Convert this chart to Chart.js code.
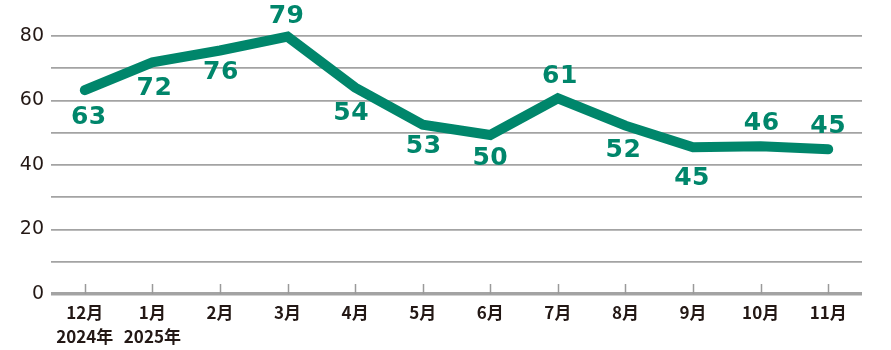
<!DOCTYPE html>
<html lang="ja">
<head>
<meta charset="utf-8">
<script src="https://cdn.jsdelivr.net/npm/chart.js@4/dist/chart.umd.min.js"></script>
<style>
  html, body { margin: 0; padding: 0; background: #fff; }
  #wrap { width: 891px; height: 350px; position: relative; }
</style>
</head>
<body>
<div id="wrap"><canvas id="chart"></canvas></div>
<script>
// Data
const months = [['12月', '2024年'], ['1月', '2025年'], '2月', '3月', '4月', '5月', '6月', '7月', '8月', '9月', '10月', '11月']
const values = [63.2, 71.8, 75.5, 79.8, 64, 52.5, 49.3, 60.7, 52.2, 45.5, 45.8, 44.9]
const valueLabels = ['63', '72', '76', '79', '54', '53', '50', '61', '52', '45', '46', '45']
const yTickLabels = [0, 20, 40, 60, 80]

const GREEN = '#00866b'
const GRID = '#a3a3a3'
const TEXT = '#231815'

// small upward tick marks on the baseline
const innerTicks = {
  id: 'innerTicks',
  beforeDatasetsDraw(chart) {
    const { ctx, chartArea } = chart
    const x = chart.scales.x
    ctx.save()
    ctx.strokeStyle = '#9a9a9a'
    ctx.lineWidth = 1.5
    x.ticks.forEach((t, i) => {
      const px = Math.round(x.getPixelForTick(i)) + 0.5
      ctx.beginPath()
      ctx.moveTo(px, chartArea.bottom - 10)
      ctx.lineTo(px, chartArea.bottom)
      ctx.stroke()
    })
    ctx.restore()
  }
}

// value labels next to the points
const valueText = {
  id: 'valueText',
  afterDatasetsDraw(chart, args, opts) {
    const { ctx } = chart
    const meta = chart.getDatasetMeta(0)
    ctx.save()
    ctx.letterSpacing = '0.5px'
    ctx.font = 'bold 25px "DejaVu Sans"'
    ctx.fillStyle = GREEN
    ctx.textAlign = 'center'
    ctx.textBaseline = 'middle'
    meta.data.forEach((pt, i) => {
      ctx.fillText(valueLabels[i], pt.x + opts.dx[i], pt.y + opts.dy[i])
    })
    ctx.restore()
  }
}

new Chart(document.getElementById('chart'), {
  type: 'line',
  data: {
    labels: months,
    datasets: [{
      data: values,
      borderColor: GREEN,
      borderWidth: 10,
      borderCapStyle: 'round',
      borderJoinStyle: 'miter',
      pointRadius: 0,
      tension: 0,
      clip: false
    }]
  },
  options: {
    responsive: true,
    maintainAspectRatio: false,
    animation: false,
    devicePixelRatio: 1,
    layout: { padding: { left: 0, right: 29, top: 36, bottom: 0 } },
    plugins: {
      legend: { display: false },
      tooltip: { enabled: false },
      valueText: {
        dx: [4, 2, 1, -1, -4, 1, 0, 2, -2, -1, 1, 0],
        dy: [27, 26, 22, -20, 26, 22, 23, -22, 25, 31, -23, -23]
      }
    },
    scales: {
      x: {
        offset: true,
        grid: { display: false, drawTicks: false },
        border: { display: false },
        ticks: {
          color: TEXT,
          padding: 7,
          maxRotation: 0,
          autoSkip: false,
          font: { family: '"Noto Sans CJK JP"', size: 17, weight: 'bold', lineHeight: 1.4 }
        },
        afterFit(scale) { scale.height = 56 }
      },
      y: {
        min: 0,
        max: 80,
        grid: {
          color: GRID,
          lineWidth: ctx => (ctx.tick && ctx.tick.value === 0 ? 3.5 : 1.8),
          drawTicks: false
        },
        border: { display: false },
        ticks: {
          stepSize: 10,
          color: TEXT,
          padding: 7,
          font: { family: '"DejaVu Sans"', size: 19 },
          callback: v => (yTickLabels.includes(v) ? String(v) : '')
        },
        afterFit(scale) { scale.width = 51 }
      }
    }
  },
  plugins: [innerTicks, valueText]
})
</script>
</body>
</html>
